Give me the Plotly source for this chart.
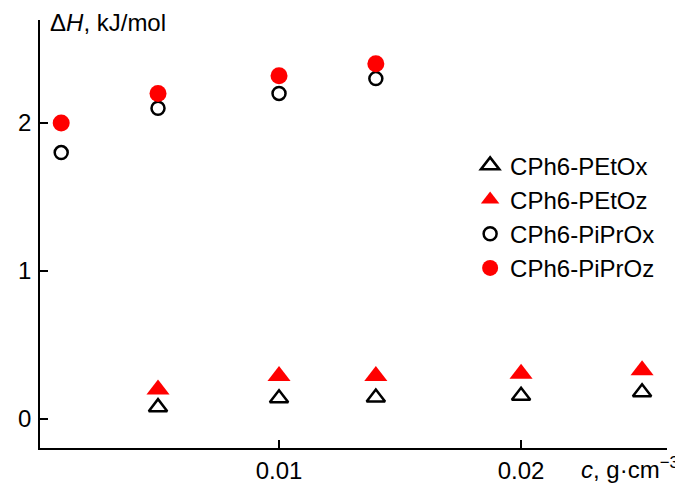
import plotly.graph_objects as go

# concentrations (g/cm3)
c_tri = [0.005, 0.01, 0.014, 0.02, 0.025]
c_circ = [0.001, 0.005, 0.01, 0.014]

petox = [0.08, 0.14, 0.145, 0.157, 0.18]
petoz = [0.20, 0.29, 0.29, 0.306, 0.33]
piprox = [1.80, 2.10, 2.20, 2.30]
piproz = [2.00, 2.20, 2.32, 2.40]

x_ticks = [0.01, 0.02]
x_ticklabels = ["0.01", "0.02"]
y_ticks = [0, 1, 2]

FONT = "Liberation Sans, Arial, sans-serif"
FS = 24

fig = go.Figure()
fig.add_trace(go.Scatter(x=c_tri, y=petox, mode="markers", name="CPh6-PEtOx",
                         marker=dict(symbol="triangle-up-open", size=16, color="black",
                                     line=dict(width=2.5, color="black"))))
fig.add_trace(go.Scatter(x=c_tri, y=petoz, mode="markers", name="CPh6-PEtOz",
                         marker=dict(symbol="triangle-up", size=20, color="#ff0000",
                                     line=dict(width=0))))
fig.add_trace(go.Scatter(x=c_circ, y=piprox, mode="markers", name="CPh6-PiPrOx",
                         marker=dict(symbol="circle-open", size=13, color="black",
                                     line=dict(width=2.5, color="black"))))
fig.add_trace(go.Scatter(x=c_circ, y=piproz, mode="markers", name="CPh6-PiPrOz",
                         marker=dict(symbol="circle", size=17, color="#ff0000",
                                     line=dict(width=0))))

fig.update_layout(
    width=675, height=478,
    margin=dict(l=32, r=16, t=12, b=38, autoexpand=False),
    paper_bgcolor="white", plot_bgcolor="white",
    font=dict(family=FONT, size=FS, color="black"),
    showlegend=True,
    legend=dict(x=0.686, y=0.712, xanchor="left", yanchor="top",
                bgcolor="rgba(0,0,0,0)", traceorder="normal",
                font=dict(size=FS), itemwidth=30),
    xaxis=dict(range=[0.000124, 0.02603], tickvals=x_ticks, ticktext=x_ticklabels,
               ticks="inside", ticklen=8, tickwidth=1.5, tickcolor="black",
               showline=True, linecolor="black", linewidth=1.8, automargin=False,
               showgrid=False, zeroline=False, ticklabelstandoff=0),
    yaxis=dict(range=[-0.196, 2.696], tickvals=y_ticks, automargin=False,
               ticks="inside", ticklen=8, tickwidth=1.5, tickcolor="black",
               showline=True, linecolor="black", linewidth=1.8,
               showgrid=False, zeroline=False, ticklabelstandoff=2),
    annotations=[
        dict(text="Δ<i>H</i>, kJ/mol", xref="paper", yref="paper",
             x=0.0, y=1.0, xshift=8, yshift=-2, xanchor="left", yanchor="middle",
             showarrow=False, font=dict(size=FS)),
        dict(text="<i>c</i>, g·cm<sup>−3</sup>", xref="paper", yref="paper",
             x=1.0, y=0, xshift=14, yshift=-20, xanchor="right", yanchor="middle",
             showarrow=False, font=dict(size=FS)),
    ],
)

fig.write_html("out.html")
